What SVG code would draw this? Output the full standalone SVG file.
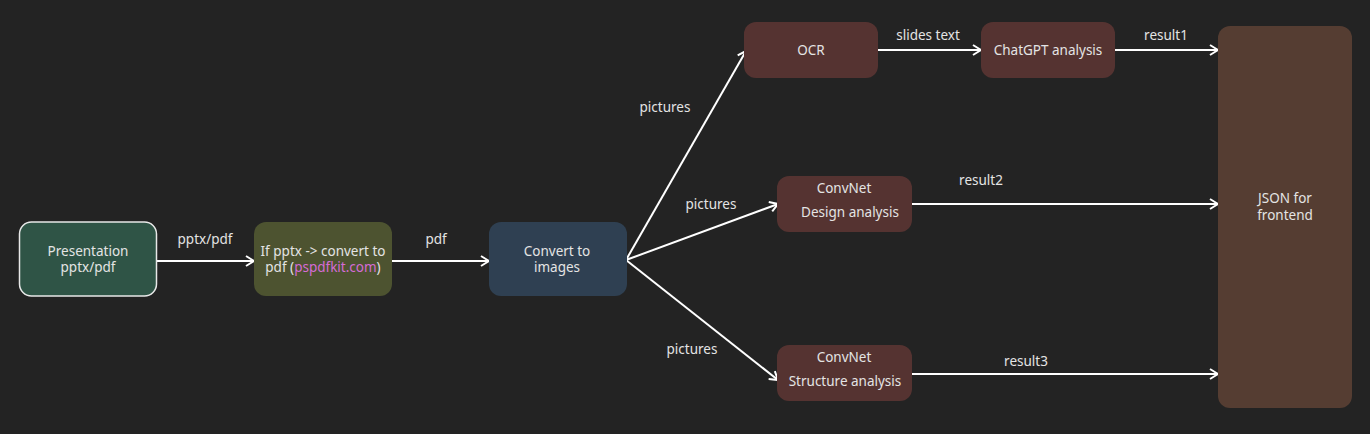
<svg xmlns="http://www.w3.org/2000/svg" width="1370" height="434" viewBox="0 0 1370 434">
<style>
text{font-family:"Noto Sans","Open Sans","DejaVu Sans",sans-serif;font-size:13.5px;fill:#e4e4e4;text-anchor:middle;dominant-baseline:central}
.c{stroke:#ffffff;stroke-width:2;fill:none}
.link{fill:#d56bd6}
</style>
<defs>
<marker id="ah" viewBox="0 0 12 12" refX="11" refY="6" markerWidth="12" markerHeight="12" markerUnits="userSpaceOnUse" orient="auto">
<path d="M3,1 L11,6 L3,11" fill="none" stroke="#ffffff" stroke-width="2"/>
</marker>
</defs>
<rect width="1370" height="434" fill="#232323"/>
<g id="connectors">
<path class="c" d="M157,261 H254" marker-end="url(#ah)"/>
<path class="c" d="M392,261 H489" marker-end="url(#ah)"/>
<path class="c" d="M626,260 L746,51" marker-end="url(#ah)"/>
<path class="c" d="M626,260 L778,204" marker-end="url(#ah)"/>
<path class="c" d="M626,260 L778,380" marker-end="url(#ah)"/>
<path class="c" d="M878,50 H981" marker-end="url(#ah)"/>
<path class="c" d="M1115,50 H1218" marker-end="url(#ah)"/>
<path class="c" d="M912,204 H1218" marker-end="url(#ah)"/>
<path class="c" d="M912,374 H1218" marker-end="url(#ah)"/>
<text x="205" y="239">pptx/pdf</text>
<text x="436" y="239">pdf</text>
<text x="665" y="107">pictures</text>
<text x="711" y="204">pictures</text>
<text x="692" y="349">pictures</text>
<text x="928" y="35">slides text</text>
<text x="1166" y="35">result1</text>
<text x="981" y="180">result2</text>
<text x="1026" y="361">result3</text>
</g>
<g id="presentation">
<rect x="19.5" y="222" width="137" height="74" rx="12" fill="#2f5446" stroke="#e8e8e8" stroke-width="1.5"/>
<text x="88" y="251">Presentation</text>
<text x="88" y="267">pptx/pdf</text>
</g>
<g id="convert-pdf">
<rect x="254" y="222" width="138" height="74" rx="12" fill="#4d5330"/>
<text x="323" y="251">If pptx -&gt; convert to</text>
<text x="323" y="267">pdf (<tspan class="link">pspdfkit.com</tspan>)</text>
</g>
<g id="convert-images">
<rect x="489" y="222" width="138" height="74" rx="12" fill="#2f4052"/>
<text x="557" y="251">Convert to</text>
<text x="557" y="267">images</text>
</g>
<g id="ocr">
<rect x="744" y="22" width="134" height="56" rx="12" fill="#553331"/>
<text x="811" y="50">OCR</text>
</g>
<g id="chatgpt">
<rect x="981" y="22" width="134" height="56" rx="12" fill="#553331"/>
<text x="1048" y="50">ChatGPT analysis</text>
</g>
<g id="design">
<rect x="777" y="176" width="135" height="56" rx="12" fill="#553331"/>
<text x="844" y="188">ConvNet</text>
<text x="850" y="212">Design analysis</text>
</g>
<g id="structure">
<rect x="777" y="345" width="135" height="56" rx="12" fill="#553331"/>
<text x="844" y="357">ConvNet</text>
<text x="845" y="381">Structure analysis</text>
</g>
<g id="json">
<rect x="1218" y="26" width="134" height="382" rx="12" fill="#553d32"/>
<text x="1285" y="198">JSON for</text>
<text x="1285" y="215">frontend</text>
</g>
</svg>
